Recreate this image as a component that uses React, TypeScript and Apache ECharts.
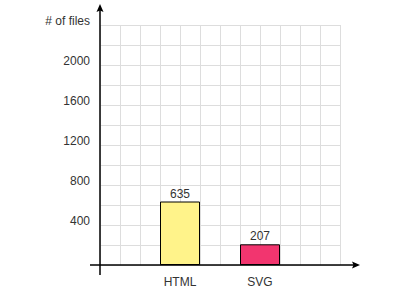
import React, { useEffect, useRef } from "react";
import * as echarts from "echarts";

const categories = ["HTML", "SVG"];
const fileCounts = [635, 207];
const yMax = 2400;
const yLabelStep = 400;
const yGridStep = 200;
const barColors = ["#fff38a", "#f2356f"];

const FONT = "'Liberation Sans', Arial, Helvetica, sans-serif";

export default function App() {
  const ref = useRef<HTMLDivElement>(null);

  useEffect(() => {
    if (!ref.current) return;
    const chart = echarts.init(ref.current, undefined, { renderer: "svg" });
    const axisCats = ["", ...categories, ""];
    const option: any = {
      animation: false,
      backgroundColor: "#ffffff",
      grid: { left: 100, top: 25, width: 240, height: 240, containLabel: false },
      xAxis: [
        {
          type: "category",
          data: axisCats,
          boundaryGap: false,
          axisLine: { show: false },
          axisTick: { show: false },
          splitLine: { show: false },
          axisLabel: {
            color: "#333",
            fontSize: 12,
            fontFamily: FONT,
            margin: 11,
            interval: 0,
          },
        },
        {
          type: "value",
          position: "top",
          min: 0,
          max: 12,
          interval: 1,
          axisLine: { show: false },
          axisTick: { show: false },
          axisLabel: { show: false },
          splitLine: { show: true, lineStyle: { color: "#dddddd", width: 1 } },
        },
      ],
      yAxis: [
        {
          type: "value",
          min: 0,
          max: yMax,
          interval: yLabelStep,
          axisLine: { show: false },
          axisTick: { show: false },
          splitLine: { show: false },
          axisLabel: {
            color: "#333",
            fontSize: 12,
            fontFamily: FONT,
            margin: 10,
            verticalAlign: "bottom",
            lineHeight: 8,
            formatter: (v: number) =>
              v === 0 ? "" : v === yMax ? "# of files" : String(v),
          },
        },
        {
          type: "value",
          min: 0,
          max: yMax,
          interval: yGridStep,
          position: "left",
          axisLine: { show: false },
          axisTick: { show: false },
          axisLabel: { show: false },
          splitLine: { show: true, lineStyle: { color: "#dddddd", width: 1 } },
        },
      ],
      series: [
        {
          type: "bar",
          xAxisIndex: 0,
          yAxisIndex: 0,
          barWidth: 40,
          data: categories.map((c, i) => ({
            value: [c, fileCounts[i]],
            itemStyle: {
              color: barColors[i],
              borderColor: "#000",
              borderWidth: 1,
            },
          })),
          label: {
            show: true,
            position: "top",
            distance: 2,
            color: "#333",
            fontSize: 12,
            fontFamily: FONT,
            formatter: (p: any) => String(p.value[1]),
          },
        },
      ],
      graphic: [
        {
          type: "line",
          shape: { x1: 100, y1: 275, x2: 100, y2: 8 },
          style: { stroke: "#000", lineWidth: 1.5 },
          z: 100,
        },
        {
          type: "polygon",
          shape: { points: [[100, 4], [96.5, 12], [100, 10.5], [103.5, 12]] },
          style: { fill: "#000" },
          z: 100,
        },
        {
          type: "line",
          shape: { x1: 90, y1: 265, x2: 356, y2: 265 },
          style: { stroke: "#000", lineWidth: 1.5 },
          z: 100,
        },
        {
          type: "polygon",
          shape: { points: [[360, 265], [352, 261.5], [353.5, 265], [352, 268.5]] },
          style: { fill: "#000" },
          z: 100,
        },
      ],
    };
    chart.setOption(option);
    return () => chart.dispose();
  }, []);

  return (
    <div
      ref={ref}
      style={{ position: "absolute", left: 0, top: 0, width: 400, height: 300 }}
    />
  );
}
